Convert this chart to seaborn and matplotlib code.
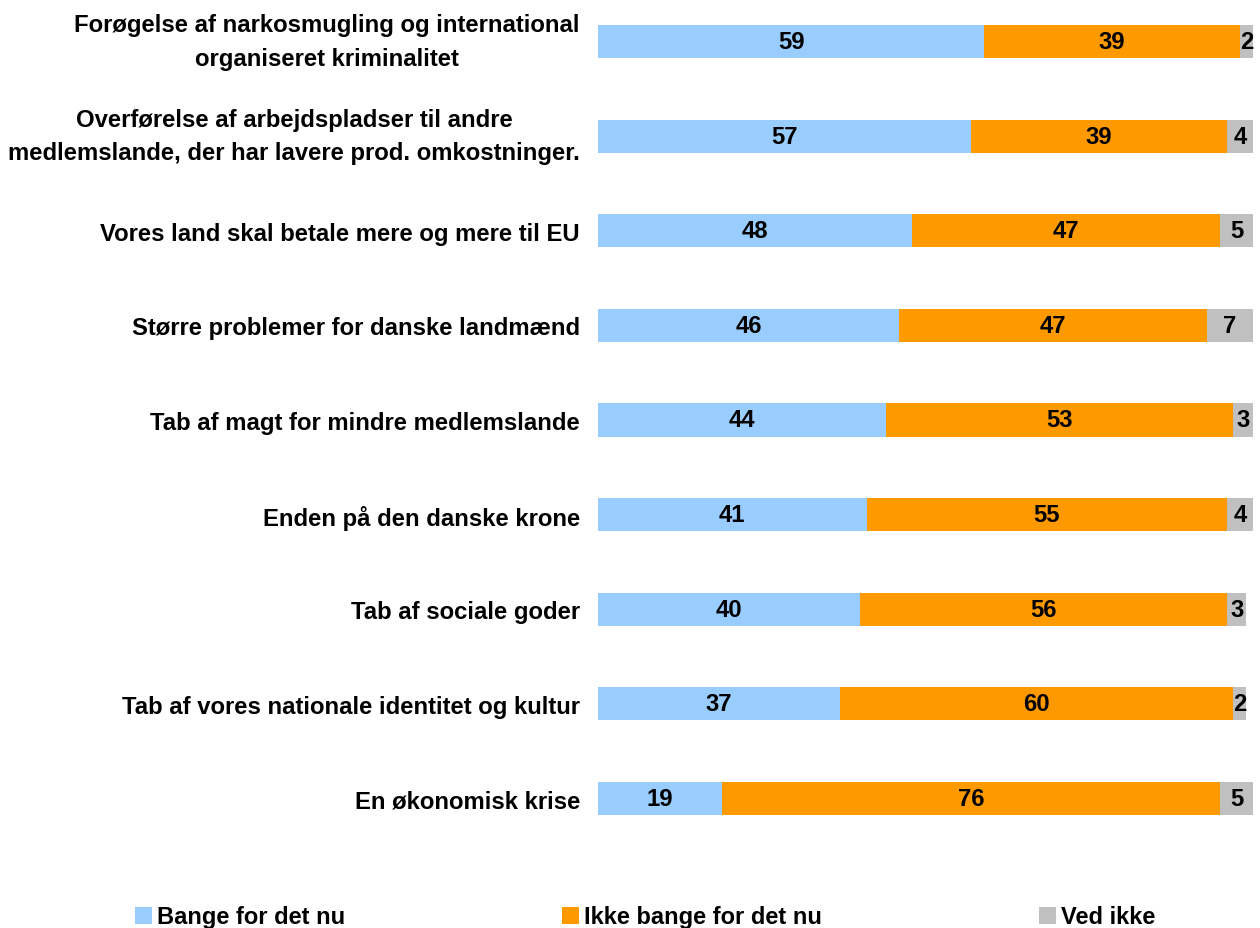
import numpy as np
import pandas as pd
import matplotlib
matplotlib.use("Agg")
import matplotlib.pyplot as plt
import seaborn as sns
from matplotlib.patches import Patch

# data
labels = [
    "Forøgelse af narkosmugling og international\norganiseret kriminalitet",
    "Overførelse af arbejdspladser til andre\nmedlemslande, der har lavere prod. omkostninger.",
    "Vores land skal betale mere og mere til EU",
    "Større problemer for danske landmænd",
    "Tab af magt for mindre medlemslande",
    "Enden på den danske krone",
    "Tab af sociale goder",
    "Tab af vores nationale identitet og kultur",
    "En økonomisk krise",
]
bange = [59, 57, 48, 46, 44, 41, 40, 37, 19]
ikke_bange = [39, 39, 47, 47, 53, 55, 56, 60, 76]
ved_ikke = [2, 4, 5, 7, 3, 4, 3, 2, 5]
series_names = ["Bange for det nu", "Ikke bange for det nu", "Ved ikke"]
colors = ["#99CCFF", "#FF9900", "#C0C0C0"]

df = pd.DataFrame({"label": labels, "bange": bange,
                   "ikke": ikke_bange, "ved": ved_ikke})
df["c1"] = df["bange"]
df["c2"] = df["bange"] + df["ikke"]
df["c3"] = df["c2"] + df["ved"]

sns.set_style("white")
plt.rcParams["font.family"] = ["Liberation Sans", "DejaVu Sans"]

fig = plt.figure(figsize=(12.6, 9.29), dpi=100)
ax = fig.add_axes([598 / 1260, 1 - 842 / 929, 655 / 1260, 842 / 929])

# stacked bars drawn back to front from cumulative sums
for col, c in zip(["c3", "c2", "c1"], colors[::-1]):
    sns.barplot(data=df, x=col, y="label", color=c, orient="h",
                width=0.35, ax=ax, saturation=1, linewidth=0)

# segment value labels
for i, row in df.iterrows():
    starts = [0, row["c1"], row["c2"]]
    for s, v in zip(starts, [row["bange"], row["ikke"], row["ved"]]):
        ax.text(s + v / 2, i, str(v), ha="center", va="center",
                fontsize=17.2, fontweight="bold", color="black")

ax.set_xlim(0, 100)
ax.set_ylim(8 + (842 - 799.5) / 94.6, -42.5 / 94.6)
ax.set_xlabel("")
ax.set_ylabel("")
ax.set_xticks([])
ax.tick_params(axis="y", length=0, pad=13)
for t in ax.get_yticklabels():
    t.set_fontsize(17.2)
    t.set_fontweight("bold")
    t.set_color("black")
    if "\n" in t.get_text():
        t.set_multialignment("center")
        t.set_linespacing(1.56)
        t.set_verticalalignment("center")
sns.despine(ax=ax, left=True, bottom=True)

handles = [Patch(facecolor=c, edgecolor="none") for c in colors]
fig.legend(handles, series_names, loc="center left",
           bbox_to_anchor=(135 / 1260, 11 / 929), ncol=3, frameon=False,
           prop={"size": 17, "weight": "bold"}, labelcolor="black",
           handlelength=0.72, handleheight=0.72, handletextpad=0.21,
           columnspacing=9.2, borderpad=0, borderaxespad=0)

fig.savefig("out.png", dpi=100)
